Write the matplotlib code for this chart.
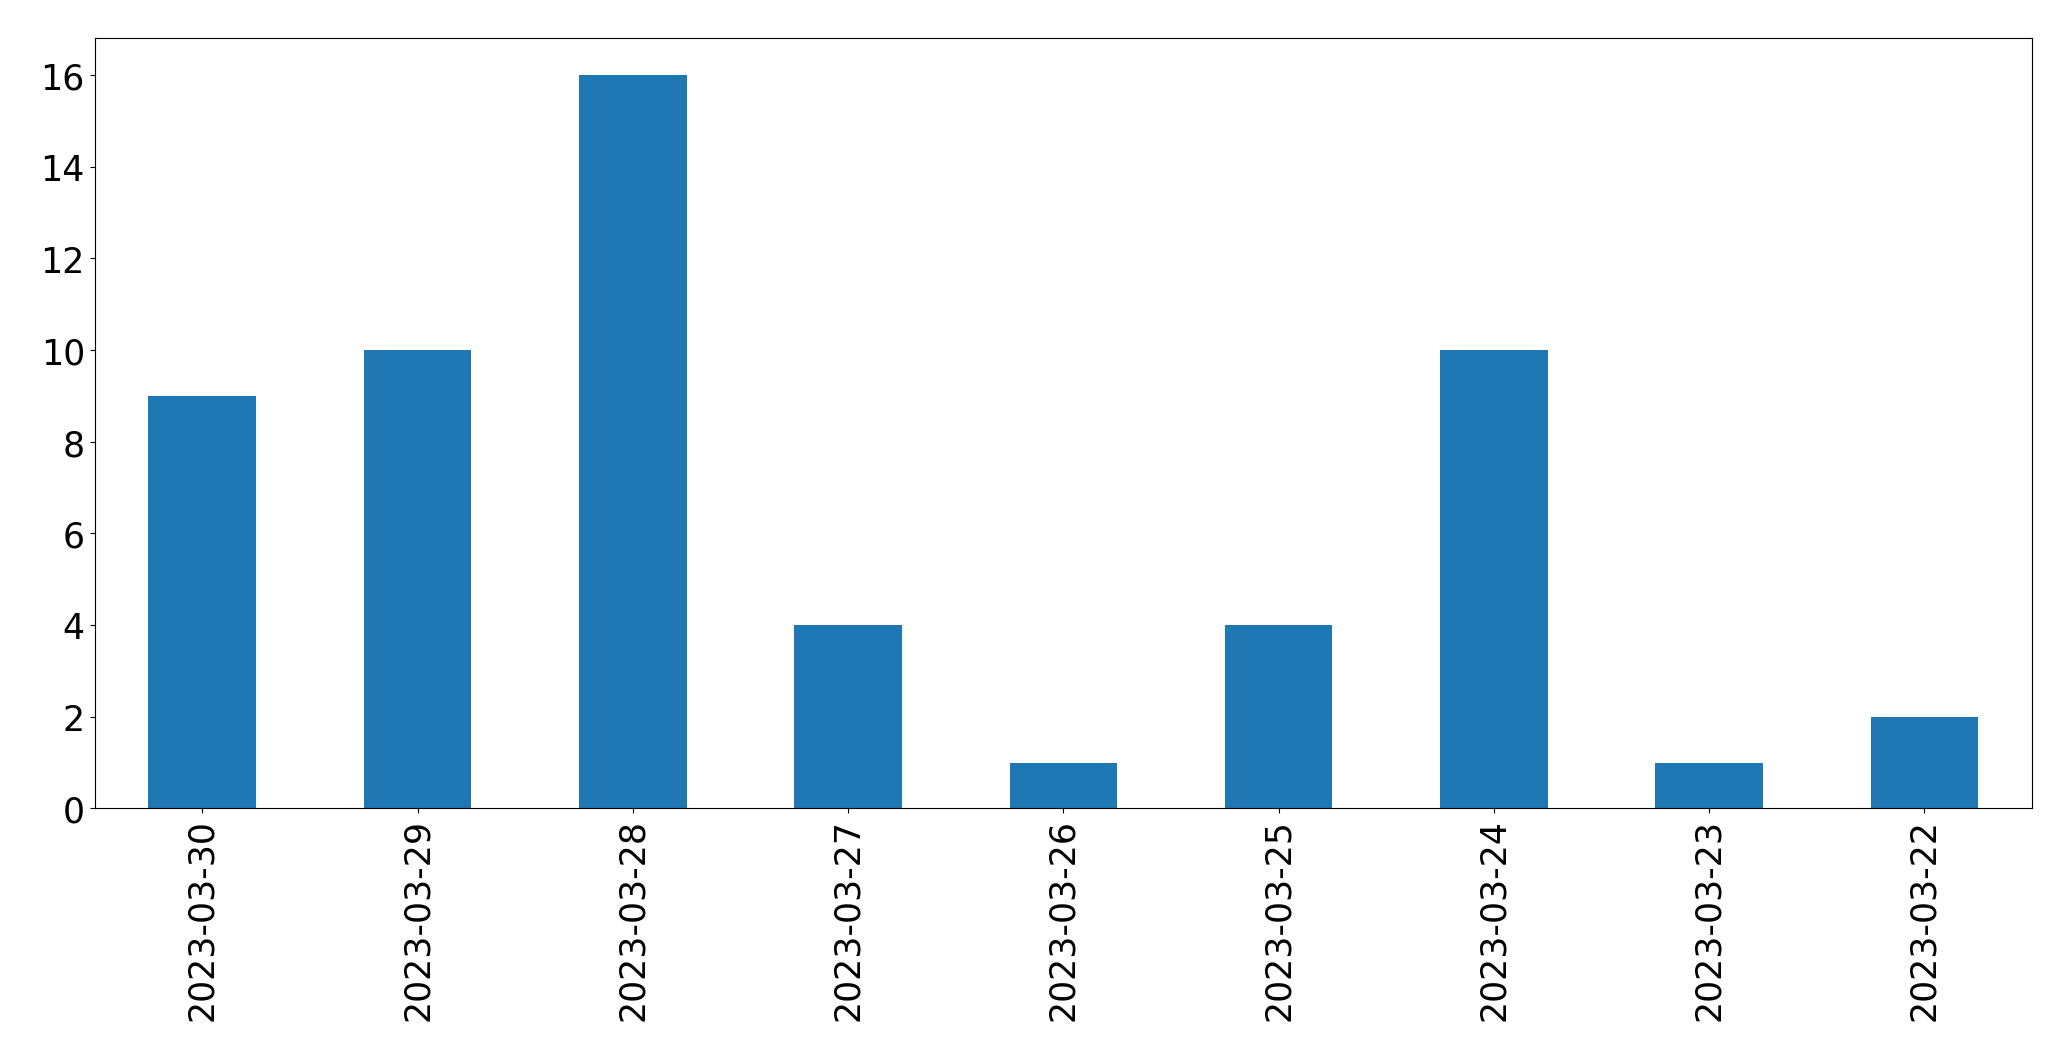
import matplotlib
matplotlib.use("Agg")
import matplotlib.pyplot as plt

dates = ["2023-03-30", "2023-03-29", "2023-03-28", "2023-03-27", "2023-03-26",
         "2023-03-25", "2023-03-24", "2023-03-23", "2023-03-22"]
counts = [9, 10, 16, 4, 1, 4, 10, 1, 2]

fig = plt.figure(figsize=(20.708, 10.608), dpi=100)
ax = fig.add_axes([0.0457, 0.2372, 0.9356, 0.7258])
x = range(len(dates))
ax.bar(x, counts, width=0.5, color="#1f77b4")
ax.set_xlim(-0.5, len(dates) - 0.5)
ax.set_ylim(0, 16.8)
ax.set_xticks(list(x))
ax.set_xticklabels(dates, rotation=90)
ax.set_yticks(range(0, 17, 2))
ax.tick_params(axis="both", labelsize=25)
fig.savefig("out.png", dpi=100)
